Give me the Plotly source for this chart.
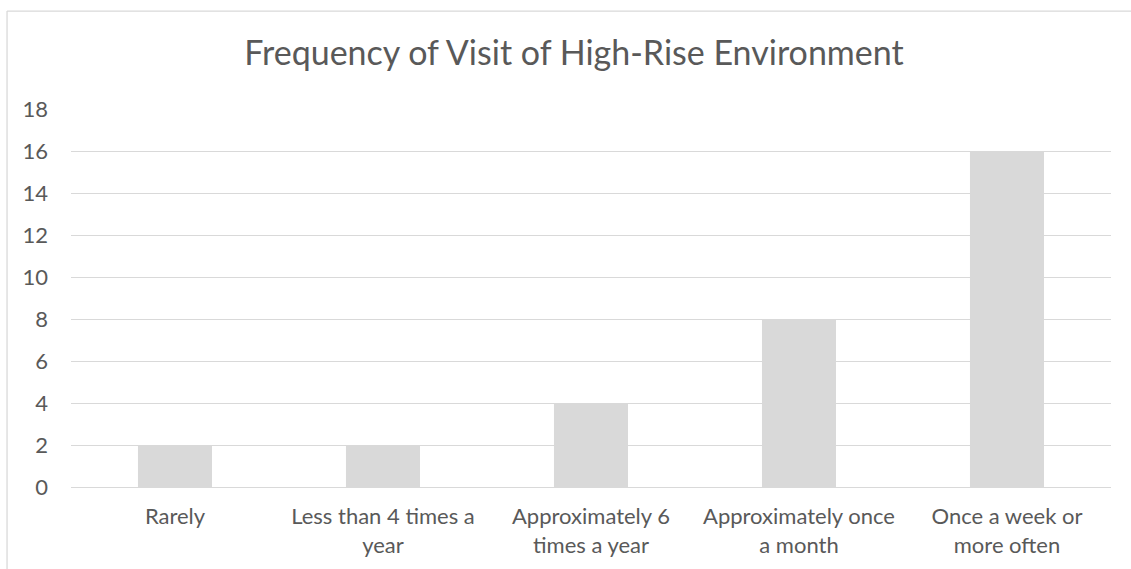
import plotly.graph_objects as go

categories = ["Rarely", "Less than 4 times a<br>year", "Approximately 6<br>times a year",
              "Approximately once<br>a month", "Once a week or<br>more often"]
values = [2, 2, 4, 8, 16]
y_ticks = [0, 2, 4, 6, 8, 10, 12, 14, 16, 18]

FONT = "Lato"
TXT = "#595959"
GRID = "#D9D9D9"

fig = go.Figure(go.Bar(x=categories, y=values, marker=dict(color="#D9D9D9", line=dict(width=0)),
                       hoverinfo="x+y"))

fig.update_layout(
    width=1131, height=569,
    margin=dict(l=71, r=20, t=109, b=82),
    paper_bgcolor="white", plot_bgcolor="white",
    bargap=0.644,
    showlegend=False,
    title=dict(text="Frequency of Visit of High-Rise Environment", x=0.5075, xanchor="center",
               y=0.907, yanchor="middle", font=dict(family=FONT, size=34, color=TXT)),
    font=dict(family=FONT, color=TXT),
)
fig.update_xaxes(showgrid=False, showline=False, zeroline=False,
                 tickfont=dict(family=FONT, size=22, color=TXT), ticklabelstandoff=14)
fig.update_yaxes(range=[0, 18], tickvals=y_ticks, showgrid=True, gridcolor=GRID, gridwidth=1.3,
                 zeroline=True, zerolinecolor=GRID, zerolinewidth=1.3, showline=False,
                 tickfont=dict(family=FONT, size=22, color=TXT), ticklabelstandoff=22)

# outer chart border (top and left visible)
fig.add_shape(type="line", xref="paper", yref="paper", x0=-0.0615, x1=1.1, y0=1.259, y1=1.259,
              line=dict(color=GRID, width=1.3))
fig.add_shape(type="line", xref="paper", yref="paper", x0=-0.0615, x1=-0.0615, y0=-0.3, y1=1.259,
              line=dict(color=GRID, width=1.3))

fig.write_html("out.html", config={"displayModeBar": False},
               post_script="document.body.style.margin='0';document.body.style.overflow='hidden';")
